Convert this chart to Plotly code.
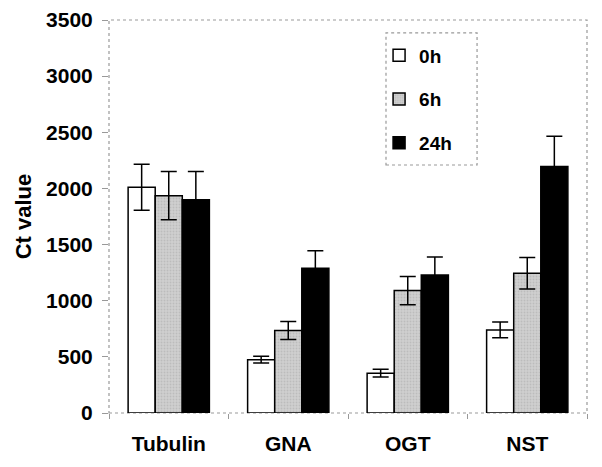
import plotly.graph_objects as go

categories = ["Tubulin", "GNA", "OGT", "NST"]
series_names = ["0h", "6h", "24h"]
values_0h = [2010, 475, 355, 740]
values_6h = [1935, 735, 1090, 1245]
values_24h = [1900, 1290, 1230, 2195]
err_0h = [205, 30, 35, 70]
err_6h = [215, 80, 125, 140]
err_24h = [250, 155, 160, 270]
y_ticks = [0, 500, 1000, 1500, 2000, 2500, 3000, 3500]

FONT = "Liberation Sans, Arial, sans-serif"

fig = go.Figure()
styles = [
    dict(color="white"),
    dict(color="#c4c4c4", pattern=dict(shape=".", fgcolor="#a8a8a8", bgcolor="#d0d0d0", size=3, solidity=0.3)),
    dict(color="black"),
]
for name, vals, errs, st in zip(series_names, [values_0h, values_6h, values_24h],
                                [err_0h, err_6h, err_24h], styles):
    fig.add_trace(go.Bar(
        x=categories, y=vals, name=name, legendgroup=name,
        marker=dict(line=dict(color="black", width=1.5), **st),
        error_y=dict(type="data", array=errs, color="black", thickness=1.5, width=8),
    ))

fig.update_layout(
    width=594, height=459,
    margin=dict(l=101, r=15, t=12, b=54),
    paper_bgcolor="white", plot_bgcolor="white",
    barmode="group", bargap=0.32, bargroupgap=0,
    font=dict(family=FONT, size=20, color="black"),
    legend=dict(x=0.565, y=0.958, xanchor="left", yanchor="top",
                borderwidth=0,
                font=dict(family=FONT, size=19, color="black", weight="bold"),
                tracegroupgap=16, itemwidth=30,
                bgcolor="rgba(0,0,0,0)"),
    xaxis=dict(showline=False, ticks="outside", tickson="boundaries",
               ticklen=5, tickcolor="#999999", automargin=False,
               ticklabelstandoff=16,
               tickfont=dict(family=FONT, size=21, weight="bold")),
    yaxis=dict(range=[0, 3500], tickvals=y_ticks, showgrid=False,
               showline=False, ticks="outside", ticklen=6, tickcolor="#999999",
               zeroline=False, automargin=False, ticklabelstandoff=5,
               tickfont=dict(family=FONT, size=21, weight="bold"),
               title=dict(text="Ct value", font=dict(family=FONT, size=22, weight="bold"),
                          standoff=8)),
)
fig.add_shape(type="rect", xref="paper", yref="paper", x0=0, x1=1, y0=0, y1=1,
              line=dict(color="#999999", width=1.2, dash="dot"), layer="below")
fig.add_shape(type="rect", xref="paper", yref="paper", x0=0.5795, x1=0.770, y0=0.631, y1=0.967,
              line=dict(color="#999999", width=1.2, dash="dot"), fillcolor="white", layer="below")

fig.write_html("out.html")
